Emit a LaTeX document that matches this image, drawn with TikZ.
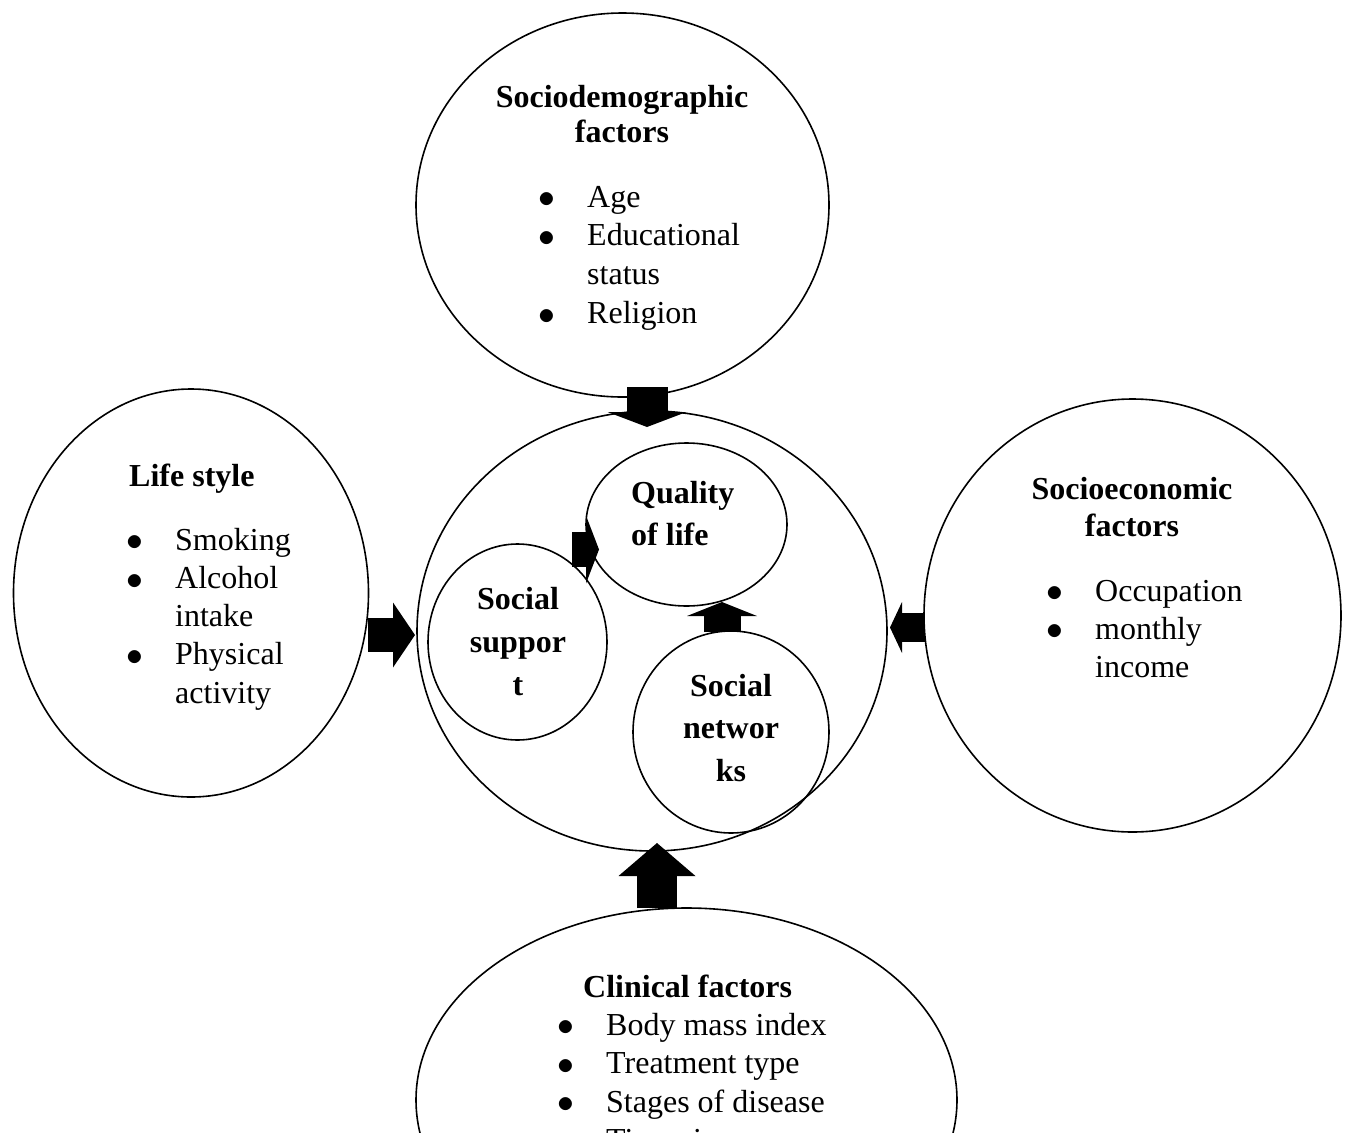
\documentclass[tikz,border=0pt]{standalone}
\usepackage{fontspec}
\setmainfont{Liberation Serif}
\usetikzlibrary{shapes.geometric,arrows.meta}
\newcommand{\bl}{\makebox[52.6pt][l]{\hspace{3.6pt}\raisebox{-0.9pt}{\scalebox{1.35}{$\bullet$}}}}
\newcommand{\fsz}[1]{\fontsize{32}{#1}\selectfont}
\begin{document}
\begin{tikzpicture}[x=1pt,y=-1pt,
  ell/.style={ellipse, draw, line width=1.6pt, inner sep=0pt},
  txt/.style={inner sep=0pt},
  blk/.style args={#1/#2/#3}{line width=#1pt, -{Triangle[length=#3pt, width=#2pt, line width=0pt]}}]
\clip (0,0) rectangle (1345,1133);
% ellipses
\node[ell, minimum width=413pt, minimum height=384pt] (sd) at (622.5,205) {};
\node[ell, minimum width=355pt, minimum height=408pt] (ls) at (191,593) {};
\node[ell, minimum width=417pt, minimum height=433pt] (se) at (1132.5,615.5) {};
\node[ell, minimum width=541pt, minimum height=384pt] (cl) at (686.5,1100) {};
\node[ell, minimum width=470pt, minimum height=440pt] (big) at (652,631) {};
\node[ell, minimum width=201pt, minimum height=163pt] (qol) at (686.5,524.5) {};
\node[ell, minimum width=179pt, minimum height=196pt] (ss) at (517.5,642) {};
\node[ell, minimum width=196pt, minimum height=202pt] (sn) at (731,732) {};
% texts
\node[txt, anchor=base, font=\bfseries\fsz{35.5}] (sdh) at (622,107)
  {\begin{tabular}[t]{@{}c@{}}Sociodemographic\\factors\end{tabular}};
\node[txt, anchor=base west, font=\fsz{38.7}] (sdl) at (534.4,207)
  {\begin{tabular}[t]{@{}l@{}l@{}}\bl&Age\\\bl&Educational\\&status\\\bl&Religion\end{tabular}};
\node[txt, anchor=base west, font=\bfseries\fsz{38}] (lsh) at (129,486) {Life style};
\node[txt, anchor=base west, font=\fsz{38.3}] (lsl) at (122.4,550)
  {\begin{tabular}[t]{@{}l@{}l@{}}\bl&Smoking\\\bl&Alcohol\\&intake\\\bl&Physical\\&activity\end{tabular}};
\node[txt, anchor=base, font=\bfseries\fsz{37}] (seh) at (1132,499)
  {\begin{tabular}[t]{@{}c@{}}Socioeconomic\\factors\end{tabular}};
\node[txt, anchor=base west, font=\fsz{38}] (sel) at (1042.4,601)
  {\begin{tabular}[t]{@{}l@{}l@{}}\bl&Occupation\\\bl&monthly\\&income\end{tabular}};
\node[txt, anchor=base west, font=\bfseries\fsz{38}] (clh) at (583,997) {Clinical factors};
\node[txt, anchor=base west, font=\fsz{38.5}] (cll) at (553.4,1035)
  {\begin{tabular}[t]{@{}l@{}l@{}}\bl&Body mass index\\\bl&Treatment type\\\bl&Stages of disease\\\bl&Time since\end{tabular}};
\node[txt, anchor=base west, font=\bfseries\fsz{42}] (qolt) at (631,503)
  {\begin{tabular}[t]{@{}l@{}}Quality\\of life\end{tabular}};
\node[txt, anchor=base, font=\bfseries\fsz{43}] (sst) at (518,609)
  {\begin{tabular}[t]{@{}c@{}}Social\\suppor\\t\end{tabular}};
\node[txt, anchor=base, font=\bfseries\fsz{42.5}] (snt) at (731,696)
  {\begin{tabular}[t]{@{}c@{}}Social\\networ\\ks\end{tabular}};
% arrow ends
\coordinate (a1s) at (647,387);   \coordinate (a1e) at (647,427);
\coordinate (a2s) at (368,635);   \coordinate (a2e) at (415,635);
\coordinate (a3s) at (925,627.5); \coordinate (a3e) at (890,627.5);
\coordinate (a4s) at (657,908);   \coordinate (a4e) at (657,843);
\coordinate (a5s) at (572,549.5); \coordinate (a5e) at (599,549.5);
\coordinate (a6s) at (722,632);   \coordinate (a6e) at (722,602);
\draw[blk=41/79/15] (a1s) -- (a1e);
\draw[blk=34/65/22] (a2s) -- (a2e);
\draw[blk=29/51/12] (a3s) -- (a3e);
\draw[blk=40/77/33] (a4s) -- (a4e);
\draw[blk=35/68/13] (a5s) -- (a5e);
\draw[blk=37/70/14] (a6s) -- (a6e);
\end{tikzpicture}
\end{document}
